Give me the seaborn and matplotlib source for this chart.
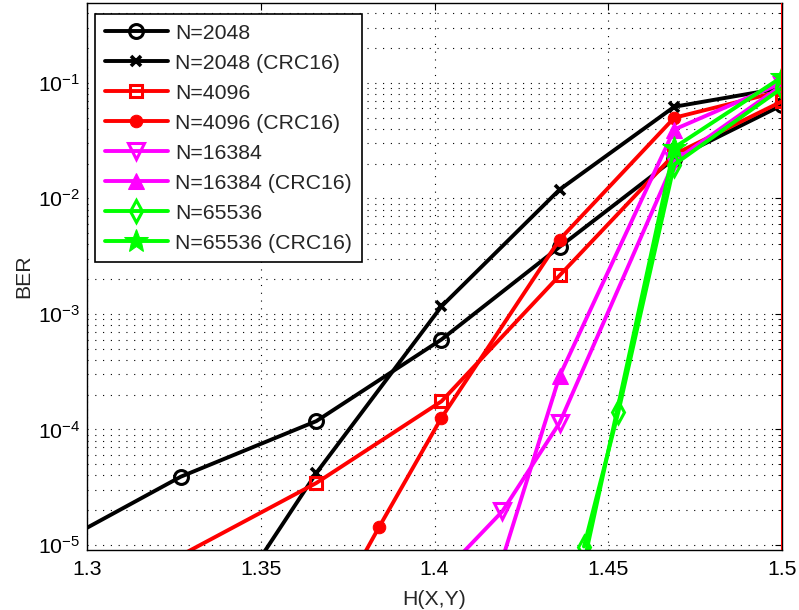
import numpy as np
import pandas as pd
import matplotlib
matplotlib.use("Agg")
import matplotlib.pyplot as plt
import seaborn as sns
from matplotlib.ticker import LogLocator, FixedLocator

# ---- data ----
x_2048 = [1.285, 1.327, 1.366, 1.402, 1.436, 1.469, 1.5]
ber_2048 = [8.0e-6, 3.9e-5, 1.18e-4, 6.0e-4, 3.8e-3, 0.022, 0.064]

x_2048_crc = [1.327, 1.366, 1.402, 1.436, 1.469, 1.5]
ber_2048_crc = [7.0e-7, 4.2e-5, 1.16e-3, 0.0119, 0.062, 0.09]

x_4096 = [1.3, 1.366, 1.402, 1.436, 1.469, 1.5]
ber_4096 = [3.0e-6, 3.44e-5, 1.75e-4, 2.15e-3, 0.024, 0.069]

x_4096_crc = [1.366, 1.384, 1.402, 1.436, 1.469, 1.5]
ber_4096_crc = [1.5e-6, 1.42e-5, 1.26e-4, 4.4e-3, 0.0498, 0.085]

x_16384 = [1.402, 1.4195, 1.436, 1.469, 1.5]
ber_16384 = [5.5e-6, 1.95e-5, 1.14e-4, 0.021, 0.095]

x_16384_crc = [1.4195, 1.436, 1.469, 1.5]
ber_16384_crc = [7.5e-6, 2.9e-4, 0.0394, 0.1]

x_65536 = [1.443, 1.4529, 1.469, 1.5]
ber_65536 = [9.7e-6, 1.41e-4, 0.0196, 0.09]

x_65536_crc = [1.443, 1.469, 1.5]
ber_65536_crc = [7.0e-6, 0.0275, 0.112]

labels = ["N=2048", "N=2048 (CRC16)", "N=4096", "N=4096 (CRC16)",
          "N=16384", "N=16384 (CRC16)", "N=65536", "N=65536 (CRC16)"]

x_ticks = [1.3, 1.35, 1.4, 1.45, 1.5]
x_tick_labels = ["1.3", "1.35", "1.4", "1.45", "1.5"]

# ---- styling ----
sns.set_theme(style="white")
plt.rcParams["font.family"] = ["Liberation Sans", "DejaVu Sans"]
plt.rcParams["mathtext.fontset"] = "custom"
plt.rcParams["mathtext.rm"] = "Liberation Sans"
plt.rcParams["mathtext.it"] = "Liberation Sans:italic"

FS = 15.3

fig = plt.figure(figsize=(7.99, 6.10), dpi=100)
ax = fig.add_axes([87/799, 1-550/610, (782-87)/799, (550-3)/610])

series = [
    (x_2048, ber_2048, "black", dict(marker="o", markersize=10, markerfacecolor="none", markeredgewidth=2.2)),
    (x_2048_crc, ber_2048_crc, "black", dict(marker="x", markersize=7, markeredgewidth=2.6)),
    (x_4096, ber_4096, "red", dict(marker="s", markersize=9, markerfacecolor="none", markeredgewidth=2.2)),
    (x_4096_crc, ber_4096_crc, "red", dict(marker="o", markersize=9)),
    (x_16384, ber_16384, "magenta", dict(marker="v", markersize=12, markerfacecolor="none", markeredgewidth=2.2)),
    (x_16384_crc, ber_16384_crc, "magenta", dict(marker="^", markersize=12)),
    (x_65536, ber_65536, "#00ff00", dict(marker="d", markersize=11, markerfacecolor="none", markeredgewidth=2.2)),
    (x_65536_crc, ber_65536_crc, "#00ff00", dict(marker="*", markersize=18)),
]

for (xs, ys, col, mk), lab in zip(series, labels):
    df = pd.DataFrame({"H": xs, "BER": ys})
    sns.lineplot(data=df, x="H", y="BER", ax=ax, color=col, linewidth=2.8,
                 label=lab, sort=False, estimator=None,
                 markeredgecolor=col, **mk)

ax.axvline(1.5, color="red", linewidth=2.2, zorder=5)

ax.set_yscale("log")
ax.set_xlim(1.3, 1.5)
ax.set_ylim(9.05e-6, 0.49)

ax.xaxis.set_major_locator(FixedLocator(x_ticks))
ax.set_xticklabels(x_tick_labels)
ax.yaxis.set_major_locator(LogLocator(base=10, numticks=12))
ax.yaxis.set_minor_locator(LogLocator(base=10, subs=np.arange(2, 10), numticks=12))

ax.grid(True, which="major", axis="both", color="black", linestyle=(0, (1, 6)), linewidth=0.8)
ax.grid(True, which="minor", axis="y", color="black", linestyle=(0, (1, 6)), linewidth=0.8)

ax.tick_params(axis="both", which="both", direction="in", top=True, right=True,
               labelsize=FS, colors="black")
ax.tick_params(axis="both", which="major", length=5, width=0.8)
ax.tick_params(axis="y", which="minor", length=3, width=0.6)
ax.tick_params(axis="x", which="major", pad=7)
ax.tick_params(axis="y", which="major", pad=5)

for sp in ax.spines.values():
    sp.set_color("black")
    sp.set_linewidth(1.0)

ax.set_xlabel("H(X,Y)", fontsize=FS, labelpad=8)
ax.set_ylabel("BER", fontsize=FS, labelpad=3)

leg = ax.legend(loc="upper left", bbox_to_anchor=(8/695, 1-11/547), fontsize=FS,
                frameon=True, fancybox=False, edgecolor="black",
                handlelength=3.0, handletextpad=0.33, labelspacing=0.52,
                borderpad=0.45, borderaxespad=0)
leg.get_frame().set_linewidth(1.2)
leg.get_frame().set_facecolor("white")
leg.get_frame().set_alpha(1.0)

fig.savefig("out.png", dpi=100)
